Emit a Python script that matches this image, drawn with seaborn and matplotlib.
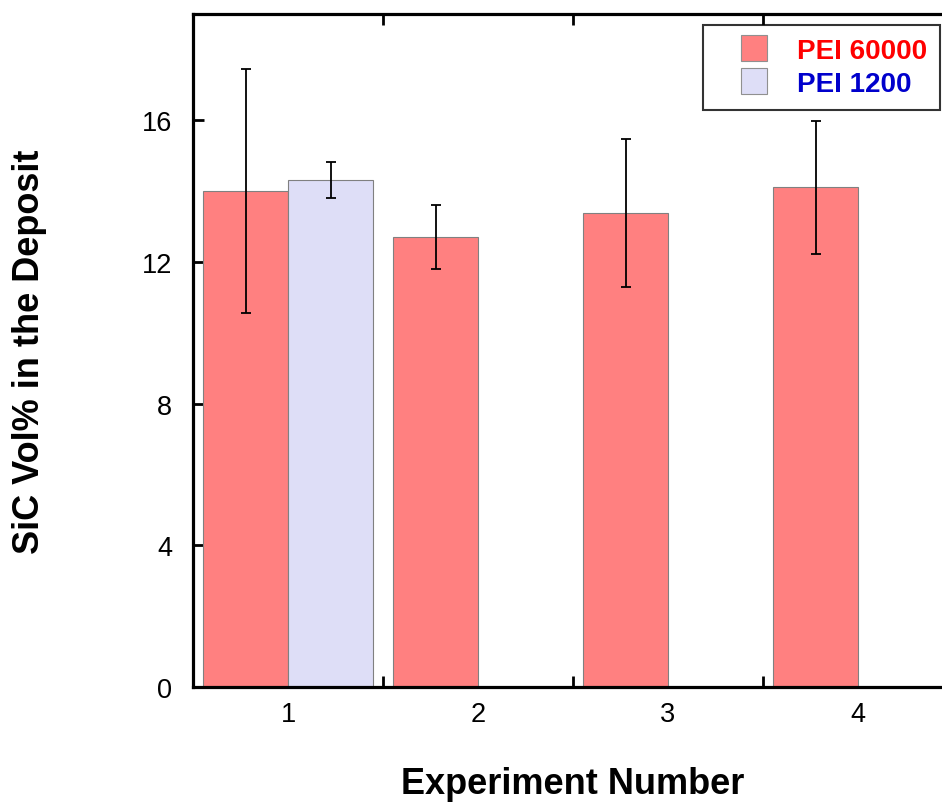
"""
SiC content in the deposit per experiment, PEI 60000 vs PEI 1200
"""

import matplotlib
matplotlib.use('Agg')
import matplotlib.pyplot as plt
from matplotlib.lines import Line2D
import seaborn as sns
import pandas as pd

# Data
experiments = ['1', '2', '3', '4']
pei_60000 = [14.0, 12.7, 13.38, 14.11]
pei_60000_err = [3.44, 0.9, 2.1, 1.88]
pei_1200_exp = ['1']
pei_1200 = [14.31]
pei_1200_err = [0.5]

series_names = ['PEI 60000', 'PEI 1200']
bar_colors = {'PEI 60000': '#FF8080', 'PEI 1200': '#DEDEF7'}
label_colors = ['#FF0000', '#0000CC']

sns.set_style("ticks")
plt.rcParams['font.family'] = ['Liberation Sans', 'DejaVu Sans']
plt.rcParams['axes.linewidth'] = 2.3
plt.rcParams['text.color'] = 'black'
plt.rcParams['axes.labelcolor'] = 'black'
plt.rcParams['xtick.color'] = 'black'
plt.rcParams['ytick.color'] = 'black'

df = pd.concat([
    pd.DataFrame({'exp': experiments, 'vol': pei_60000, 'err': pei_60000_err,
                  'series': 'PEI 60000'}),
    pd.DataFrame({'exp': pei_1200_exp, 'vol': pei_1200, 'err': pei_1200_err,
                  'series': 'PEI 1200'}),
], ignore_index=True)

fig = plt.figure(figsize=(9.42, 8.03), dpi=100)
ax = fig.add_axes([0.2049, 0.1432, 0.8068, 0.8381])

sns.barplot(data=df, x='exp', y='vol', hue='series', order=experiments,
            hue_order=series_names, palette=bar_colors, width=0.895,
            saturation=1, errorbar=None, edgecolor='#808080', linewidth=0.8,
            legend=False, ax=ax)

# error bars on top of each bar
for container, name in zip(ax.containers, series_names):
    sub = df[df['series'] == name].set_index('exp').reindex(experiments).dropna()
    bars = [b for b in container if b.get_height() == b.get_height() and b.get_height() > 0]
    for bar, (_, row) in zip(bars, sub.iterrows()):
        xc = bar.get_x() + bar.get_width() / 2
        ax.errorbar(xc, bar.get_height(), yerr=row['err'], fmt='none',
                    ecolor='black', elinewidth=1.3, capsize=3.6, capthick=1.3,
                    zorder=5)

ax.set_xlim(-0.5, 3.5)
ax.set_ylim(0, 19)
ax.set_yticks([0, 4, 8, 12, 16])
ax.set_xticks(range(len(experiments)))
ax.set_xticklabels(experiments)
ax.set_xticks([0.5, 1.5, 2.5], minor=True)

ax.tick_params(axis='both', which='major', labelsize=19.5, direction='in',
               length=8, width=2, top=False, right=True)
ax.tick_params(axis='x', which='major', length=0, pad=10)
ax.tick_params(axis='y', which='major', pad=15)
ax.tick_params(axis='x', which='minor', direction='in', length=8, width=2,
               top=True, bottom=True)

for side in ['top', 'right', 'left', 'bottom']:
    ax.spines[side].set_visible(True)
    ax.spines[side].set_color('black')
    ax.spines[side].set_linewidth(2.3)

ax.set_xlabel('Experiment Number', fontsize=26, fontweight='bold')
ax.set_ylabel('SiC Vol% in the Deposit', fontsize=26, fontweight='bold')
ax.xaxis.set_label_coords(0.5, -0.118)
ax.yaxis.set_label_coords(-0.192, 0.5)

handles = [
    Line2D([], [], marker='s', linestyle='none', markersize=18.7,
           markerfacecolor=bar_colors[n], markeredgecolor='#909090',
           markeredgewidth=0.8)
    for n in series_names
]
leg = ax.legend(handles, series_names, loc='upper right',
                bbox_to_anchor=(940 / 942, 1 - 26 / 803),
                bbox_transform=fig.transFigure, borderaxespad=0,
                prop={'weight': 'bold', 'size': 20}, labelcolor=label_colors,
                frameon=True, fancybox=False, edgecolor='black',
                handlelength=2.7, handletextpad=0.2, labelspacing=0.25,
                borderpad=0.47)
leg.get_frame().set_linewidth(1.5)

plt.savefig('out.png', dpi=100)
plt.close()
